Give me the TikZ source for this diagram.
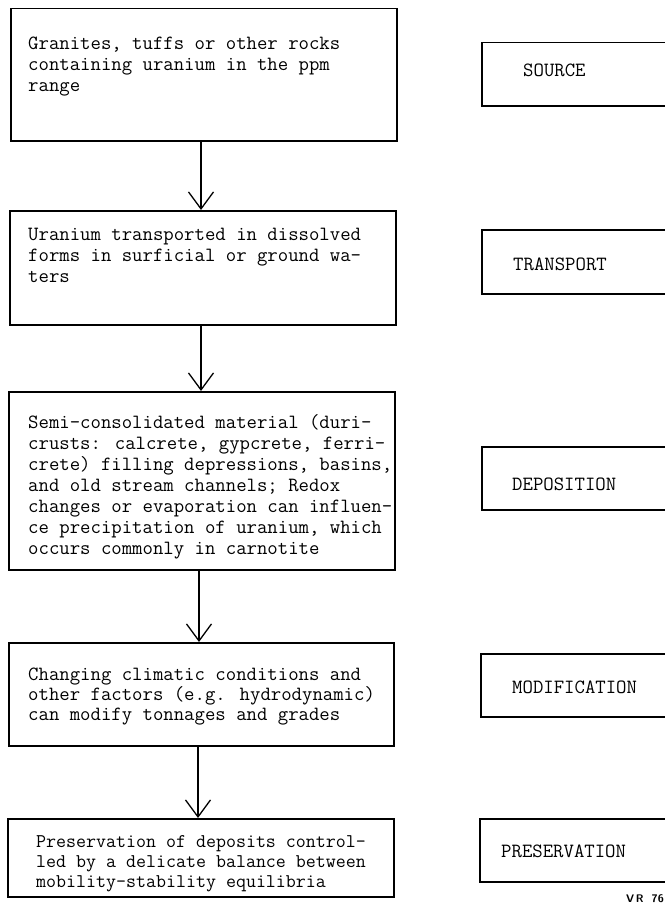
\documentclass[tikz,border=0pt]{standalone}
\usepackage{fontspec}
\usetikzlibrary{arrows.meta}
\begin{document}
\begin{tikzpicture}[x=1pt,y=-1pt,
  box/.style={draw, line width=1.5pt, rectangle, inner sep=0pt, anchor=north west},
  stage/.style={draw, line width=1.5pt, rectangle, inner sep=0pt, anchor=north west,
    minimum width=200pt, minimum height=63pt},
  txt/.style={inner sep=0pt, anchor=base west, align=left,
    font=\ttfamily\fontsize{20.2}{21}\selectfont},
  lbl/.style={inner sep=0pt, anchor=base west,
    font=\ttfamily\fontsize{20.2}{21}\selectfont},
  arr/.style={line width=1.3pt, -{Straight Barb[length=17pt,width=25pt,line width=1.3pt]}}]
  \useasboundingbox (0,0) rectangle (664,907);

  % process boxes (left column)
  \node[box, minimum width=386pt, minimum height=132pt] (b1) at (10,8) {};
  \node[box, minimum width=386pt, minimum height=114pt] (b2) at (9,210) {};
  \node[box, minimum width=386pt, minimum height=178pt] (b3) at (8,391) {};
  \node[box, minimum width=385pt, minimum height=103pt] (b4) at (8,642) {};
  \node[box, minimum width=386pt, minimum height=78pt]  (b5) at (7,818) {};

  % texts are placed by the baseline of their last line
  \node[txt] (t1) at (28,92) {Granites, tuffs or other rocks\\containing uranium in the ppm\\range};
  \node[txt] (t2) at (28,282) {Uranium transported in dissolved\\forms in surficial or ground wa-\\ters};
  \node[txt] (t3) at (28,554) {Semi-consolidated material (duri-\\crusts: calcrete, gypcrete, ferri-\\crete) filling depressions, basins,\\and old stream channels; Redox\\changes or evaporation can influen-\\ce precipitation of uranium, which\\occurs commonly in carnotite};
  \node[txt, font=\ttfamily\fontsize{20.2}{20}\selectfont] (t4) at (28,720) {Changing climatic conditions and\\other factors (e.g. hydrodynamic)\\can modify tonnages and grades};
  \node[txt, font=\ttfamily\fontsize{19.4}{20}\selectfont] (t5) at (36,887) {Preservation of deposits control-\\led by a delicate balance between\\mobility-stability equilibria};

  % stage boxes (right column, running off the page edge)
  \node[stage] (s1) at (481,42) {};
  \node[stage, minimum height=64pt] (s2) at (481,229) {};
  \node[stage] (s3) at (481,446) {};
  \node[stage] (s4) at (480,653) {};
  \node[stage] (s5) at (479,818) {};

  \node[lbl] (l1) at (523,77) {SOURCE};
  \node[lbl] (l2) at (513,270) {TRANSPORT};
  \node[lbl] (l3) at (512,490) {DEPOSITION};
  \node[lbl] (l4) at (512,693) {MODIFICATION};
  \node[lbl] (l5) at (501,857) {PRESERVATION};

  % connectors
  \coordinate (c1) at (201,0);
  \coordinate (c2) at (201,0);
  \coordinate (c3) at (199,0);
  \coordinate (c4) at (198,0);
  \draw[arr] (b1.south -| c1) -- (b2.north -| c1);
  \draw[arr] (b2.south -| c2) -- (b3.north -| c2);
  \draw[arr] (b3.south -| c3) -- (b4.north -| c3);
  \draw[arr] (b4.south -| c4) -- (b5.north -| c4);

  \node[inner sep=0pt, anchor=base east, font=\sffamily\bfseries\fontsize{11}{12}\selectfont] (vr) at (664,902) {V\,R\ \ 76};
\end{tikzpicture}
\end{document}
